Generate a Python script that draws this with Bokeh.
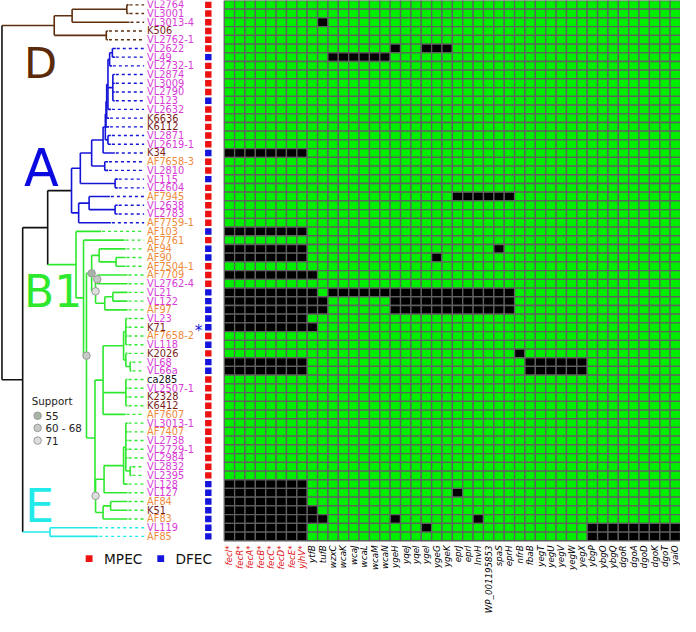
import math
from bokeh.plotting import figure
from bokeh.models import ColumnDataSource, Range1d
from bokeh.embed import file_html
from bokeh.resources import INLINE
from bokeh.core.properties import value

# ---------------- data ----------------
genes = ["fecI*", "fecR*", "fecA*", "fecB*", "fecC*", "fecD*", "fecE*", "yjhV*",
         "ytfB", "tufB", "wzxC", "wcaK", "wcaJ", "wcaL", "wcaM", "wcaN",
         "ygeH", "yqeJ", "yqeI", "ygeI", "ygeG", "ygeK", "eprJ", "eprI", "InvH",
         "WP_001195853", "spaS", "eprH", "nfrB", "fbaB", "yegT", "yegU", "yegV",
         "yegW", "yegX", "ybgP", "ybgO", "ybgQ", "dgoR", "dgoA", "dgoD", "dgoK",
         "dgoT", "yaiO"]

strains = ["VL2764", "VL3001", "VL3013-4", "K506", "VL2762-1", "VL2622", "VL49",
           "VL2732-1", "VL2874", "VL3009", "VL2790", "VL123", "VL2632", "K6636",
           "K6112", "VL2871", "VL2619-1", "K34", "AF7658-3", "VL2810", "VL115",
           "VL2604", "AF7945", "VL2638", "VL2783", "AF7759-1", "AF103", "AF7761",
           "AF94", "AF90", "AF7504-1", "AF7709", "VL2762-4", "VL21", "VL122", "AF97",
           "VL23", "K71", "AF7658-2", "VL118", "K2026", "VL68", "VL66a", "ca285",
           "VL2507-1", "K2328", "K6412", "AF7607", "VL3013-1", "AF7407", "VL2738",
           "VL2729-1", "VL2984", "VL2832", "VL2395", "VL128", "VL127", "AF84", "K51",
           "AF83", "VL119", "AF85"]

pathotype = ["MPEC", "MPEC", "MPEC", "MPEC", "MPEC", "MPEC", "DFEC", "MPEC", "MPEC",
             "MPEC", "MPEC", "DFEC", "MPEC", "MPEC", "MPEC", "MPEC", "MPEC", "DFEC",
             "MPEC", "MPEC", "DFEC", "MPEC", "MPEC", "MPEC", "MPEC", "MPEC", "DFEC",
             "MPEC", "DFEC", "DFEC", "MPEC", "MPEC", "MPEC", "DFEC", "DFEC", "DFEC",
             "DFEC", "DFEC", "MPEC", "DFEC", "MPEC", "DFEC", "DFEC", "MPEC", "MPEC",
             "MPEC", "MPEC", "MPEC", "MPEC", "MPEC", "MPEC", "MPEC", "MPEC", "MPEC",
             "MPEC", "DFEC", "DFEC", "DFEC", "DFEC", "DFEC", "DFEC", "DFEC"]

# absent genes (black cells) as inclusive ranges of gene names
absent = {
    "VL3013-4": [("tufB", "tufB")],
    "VL2622": [("ygeH", "ygeH"), ("ygeI", "ygeK")],
    "VL49": [("wzxC", "wcaN")],
    "K34": [("fecI*", "yjhV*")],
    "AF7945": [("eprJ", "eprH")],
    "AF103": [("fecI*", "yjhV*")],
    "AF94": [("fecI*", "yjhV*"), ("spaS", "spaS")],
    "AF90": [("fecI*", "yjhV*"), ("ygeG", "ygeG")],
    "AF7709": [("fecI*", "ytfB")],
    "VL21": [("fecI*", "ytfB"), ("wzxC", "eprH")],
    "VL122": [("fecI*", "tufB"), ("ygeH", "eprH")],
    "AF97": [("fecI*", "tufB"), ("ygeH", "eprH")],
    "VL23": [("fecI*", "yjhV*")],
    "K71": [("fecI*", "ytfB")],
    "K2026": [("nfrB", "nfrB")],
    "VL68": [("fecI*", "yjhV*"), ("fbaB", "yegX")],
    "VL66a": [("fecI*", "yjhV*"), ("fbaB", "yegX")],
    "VL128": [("fecI*", "yjhV*")],
    "VL127": [("fecI*", "yjhV*"), ("eprJ", "eprJ")],
    "AF84": [("fecI*", "yjhV*")],
    "K51": [("fecI*", "ytfB")],
    "AF83": [("fecI*", "tufB"), ("ygeH", "ygeH"), ("InvH", "InvH")],
    "VL119": [("fecI*", "yjhV*"), ("ygeI", "ygeI"), ("ybgP", "yaiO")],
    "AF85": [("fecI*", "yjhV*"), ("ybgP", "yaiO")],
}

support_levels = ["55", "60 - 68", "71"]

# tree: node depth (x) values
def N(x, kids, color=None, stem=None, support=None):
    return {"x": x, "kids": kids, "color": color, "stem": stem, "support": support}

def L(name, xe):
    return {"name": name, "x": xe}

BROWN = "#5e2f10"
BLUE = "#1515d8"
GREEN = "#2ee82e"
CYAN = "#22eaea"
BLACK = "#111111"

D_clade = N(55, [N(73.3, [N(129.3, [L("VL2764", 131), L("VL3001", 131)]), L("VL3013-4", 132)]),
                 N(108.3, [L("K506", 110), L("VL2762-1", 110)])], color=BROWN, stem=BROWN)
S = N(107.3, [N(108, [N(108.7, [N(110, [N(111.7, [N(114.5, [L("VL2622", 118), L("VL49", 117)]),
                                                  L("VL2732-1", 114)]),
                                        N(115, [L("VL2874", 117), L("VL3009", 117), L("VL2790", 117), L("VL123", 117)]),
                                        L("VL2632", 113)]),
                                L("K6636", 111)]),
                      L("K6112", 111)]),
              N(110, [L("VL2871", 113), L("VL2619-1", 113)])])
A1 = N(81.7, [N(93.3, [N(105, [S, L("K34", 117)]), N(106.7, [L("AF7658-3", 110), L("VL2810", 110)])]),
              N(117.3, [L("VL115", 120), L("VL2604", 120)])])
A2 = N(80, [N(90.7, [L("AF7945", 112), N(117.3, [L("VL2638", 120), L("VL2783", 120)])]), L("AF7759-1", 113)])
A_clade = N(72.7, [A1, A2], color=BLUE, stem=BLACK)

B1c = N(93.3, [N(101, [L("AF94", 128), N(118.3, [L("AF90", 128), L("AF7504-1", 128)])]),
               N(97.3, [N(99, [L("AF7709", 130), L("VL2762-4", 130)], support=1),
                        N(106.7, [N(115, [L("VL21", 130), L("VL122", 130)]), L("AF97", 130)])], support=2)],
          support=0)
P = N(128.3, [L("VL23", 130), L("K71", 130), L("AF7658-2", 130), L("VL118", 130)])
Kg = N(128.3, [L("K2026", 130), N(132.7, [L("VL68", 134), L("VL66a", 134)])])
Q = N(128.3, [L("ca285", 130), L("VL2507-1", 130), L("K2328", 130), L("K6412", 130)])
B1e = N(105, [N(126, [P, Kg]), Q, L("AF7607", 128)])
R = N(126, [N(128.3, [L("VL3013-1", 130), L("AF7407", 130), L("VL2738", 130), L("VL2729-1", 130),
                      L("VL2984", 130), N(132.7, [L("VL2832", 134), L("VL2395", 134)])]),
            L("VL128", 130)])
B1f = N(97.3, [N(106, [R, L("VL127", 130)]),
               N(105, [N(112.7, [L("AF84", 130), L("K51", 130)]), L("AF83", 130)])], support=2)
B1d = N(96.7, [B1e, B1f])
B1_clade = N(77.3, [L("AF103", 103), N(85, [L("AF7761", 127), N(88, [B1c, B1d], support=1)])],
             color=GREEN, stem=GREEN)
E_clade = N(50.7, [L("VL119", 100), L("AF85", 100)], color=CYAN, stem=CYAN)
tree = N(1.5, [D_clade, N(22.7, [N(48.3, [A_clade, B1_clade]), E_clade])], color=BLACK)

# ---------------- geometry ----------------
W, H = 680, 616
REF_W, REF_H = 696, 632
FS = W / REF_W

ROW_H = 8.94
GRID_X0, GRID_X1 = 229.0, 696.0
COL_W = (GRID_X1 - GRID_X0) / len(genes)
LABEL_X = 150
DASH_END = 147
TYPE_X = 212.7

row_y = {s: (i + 0.5) * ROW_H for i, s in enumerate(strains)}

def px(v):
    return "%.1fpx" % (v * FS)

p = figure(width=W, height=H, x_range=Range1d(0, REF_W), y_range=Range1d(REF_H, 0),
           toolbar_location=None, output_backend="svg", min_border=0)
p.axis.visible = False
p.grid.visible = False
p.outline_line_color = None
p.background_fill_color = "white"

# ---- heatmap ----
gi = {g: i for i, g in enumerate(genes)}
hx, hy, hc = [], [], []
for r, s in enumerate(strains):
    blk = set()
    for a, b in absent.get(s, []):
        blk.update(range(gi[a], gi[b] + 1))
    for c in range(len(genes)):
        hx.append(GRID_X0 + (c + 0.5) * COL_W)
        hy.append(row_y[s])
        hc.append("#000000" if c in blk else "#00ee00")
p.rect(x=hx, y=hy, width=COL_W, height=ROW_H, fill_color=hc, line_color="#606060", line_width=1.3)

# gene labels
gcol = ["#e01010" if g.endswith("*") else "#000000" for g in genes]
p.text(x=[GRID_X0 + (c + 0.5) * COL_W for c in range(len(genes))], y=[559] * len(genes), text=genes,
       angle=math.pi / 2, text_align="right", text_baseline="middle", text_color=gcol,
       text_font=value("DejaVu Sans"), text_font_style="italic", text_font_size=px(8.9))

# ---- tree ----
solid = {"x0": [], "y0": [], "x1": [], "y1": [], "c": []}
dashed = {"x0": [], "y0": [], "x1": [], "y1": [], "c": []}
sup = {"x": [], "y": [], "lvl": []}

def place(n):
    if "name" in n:
        n["y"] = row_y[n["name"]]
        return n["y"]
    ys = [place(k) for k in n["kids"]]
    n["y"] = (ys[0] + ys[-1]) / 2
    return n["y"]

def seg(d, x0, y0, x1, y1, c):
    d["x0"].append(x0); d["y0"].append(y0); d["x1"].append(x1); d["y1"].append(y1); d["c"].append(c)

def draw(n, color):
    c = n.get("color") or color
    ks = n["kids"]
    seg(solid, n["x"], ks[0]["y"], n["x"], ks[-1]["y"], c)
    for k in ks:
        kc = k.get("color") or c
        sc = k.get("stem") or kc
        seg(solid, n["x"], k["y"], k["x"], k["y"], sc)
        if "name" in k:
            seg(dashed, k["x"] + 1, k["y"], DASH_END, k["y"], kc)
        else:
            draw(k, kc)
    if n.get("support") is not None:
        sup["x"].append(n["x"]); sup["y"].append(n["y"]); sup["lvl"].append(n["support"])

place(tree)
draw(tree, BLACK)
p.segment("x0", "y0", "x1", "y1", source=ColumnDataSource(solid), line_color="c", line_width=1.6)
p.segment("x0", "y0", "x1", "y1", source=ColumnDataSource(dashed), line_color="c", line_width=1.4,
          line_dash="3 3")

sup_fill = ["#a8b4a6", "#c6cac5", "#dedede"]
p.scatter(sup["x"], sup["y"], size=7.5, fill_color=[sup_fill[l] for l in sup["lvl"]],
          line_color="#9a9a9a", line_width=1)

# leaf labels
def lab_color(s):
    if s.startswith("VL"):
        return "#d83ad8"
    if s.startswith("AF"):
        return "#ee8a3a"
    if s.startswith("K"):
        return "#7a1c1c"
    return "#111111"

p.text(x=[LABEL_X] * len(strains), y=[row_y[s] for s in strains], text=strains,
       text_color=[lab_color(s) for s in strains], text_baseline="middle", text_align="left",
       text_font=value("DejaVu Sans"), text_font_size=px(10))

# pathotype squares
type_color = {"MPEC": "#ee1111", "DFEC": "#1414dd"}
p.rect(x=[TYPE_X] * len(strains), y=[row_y[s] for s in strains], width=6.6, height=6.6,
       fill_color=[type_color[t] for t in pathotype], line_color=None)

# asterisk next to K71
p.text(x=[202.7], y=[row_y["K71"] + 4], text=["*"], text_color="#1414dd", text_align="center",
       text_baseline="middle", text_font=value("DejaVu Sans"), text_font_size=px(16))

# clade letters
for txt, x, yc, fs, col in [("D", 24, 64, 44, "#5a2a0a"), ("A", 24, 172, 52, "#0a0ae0"),
                            ("B1", 24, 299, 45, GREEN), ("E", 25, 519, 47, CYAN)]:
    p.text(x=[x], y=[yc], text=[txt], text_color=col, text_baseline="middle",
           text_font=value("DejaVu Sans"), text_font_size=px(fs))

# support legend
p.text(x=[32], y=[411], text=["Support"], text_baseline="middle", text_color="#222222",
       text_font=value("DejaVu Sans"), text_font_size=px(10.5))
p.scatter([38, 38, 38], [426, 438.5, 451.5], size=7.5, fill_color=sup_fill, line_color="#9a9a9a")
p.text(x=[46, 46, 46], y=[426, 438.5, 451.5], text=support_levels, text_baseline="middle",
       text_color="#222222", text_font=value("DejaVu Sans"), text_font_size=px(10.5))

# pathotype legend
p.rect(x=[90.7, 164], y=[572.7, 572.7], width=7, height=7, fill_color=["#ee1111", "#1414dd"], line_color=None)
p.text(x=[106, 179], y=[573, 573], text=["MPEC", "DFEC"], text_baseline="middle", text_color="#111111",
       text_font=value("DejaVu Sans"), text_font_size=px(14))

open("out.html", "w").write(file_html(p, INLINE))
